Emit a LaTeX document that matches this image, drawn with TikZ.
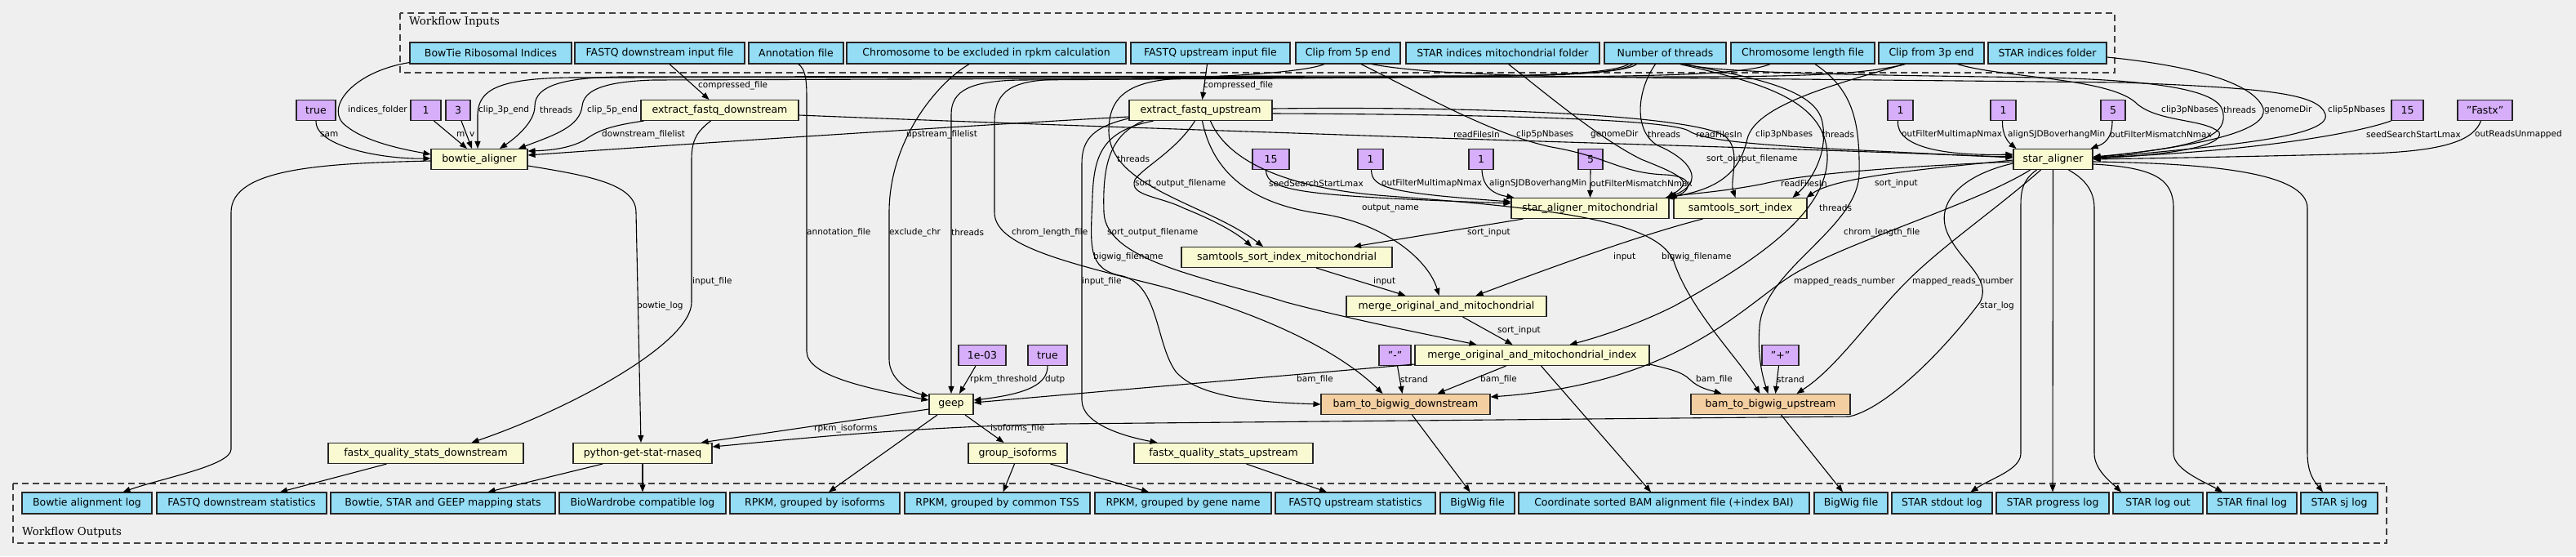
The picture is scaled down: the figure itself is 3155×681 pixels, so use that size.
\documentclass[tikz,border=0pt]{standalone}
\usepackage{fontspec}
\setmainfont{DejaVu Sans}
\newfontfamily\clusterfont{DejaVu Serif}
\usetikzlibrary{arrows.meta}
\definecolor{cBg}{RGB}{239,239,239}
\definecolor{cBlue}{RGB}{148,221,245}
\definecolor{cYel}{RGB}{250,250,210}
\definecolor{cPur}{RGB}{214,174,250}
\definecolor{cOra}{RGB}{243,206,160}
\newcommand\mynodefont{\fontsize{12.5}{15}\selectfont}
\newcommand\mylblfont{\fontsize{10.5}{12}\selectfont}
\begin{document}
\begin{tikzpicture}[x=1pt,y=-1pt,
  nbase/.style={draw=black!85,line width=1.1pt,inner sep=0pt,font=\mynodefont},
  inout/.style={nbase,fill=cBlue,minimum height=26pt},
  tool/.style={nbase,fill=cYel,minimum height=25pt},
  pbox/.style={nbase,fill=cPur,minimum height=25pt},
  conv/.style={nbase,fill=cOra,minimum height=25pt},
  lbl/.style={font=\mylblfont,inner sep=0pt,anchor=west},
  edg/.style={draw=black,line width=1.1pt,-{Triangle[length=9pt,width=7pt]}},
  cluster/.style={draw=black!75,line width=1.2pt,dash pattern=on 8pt off 5pt},
  ctitle/.style={font=\clusterfont\fontsize{13.3}{16}\selectfont,inner sep=0pt,anchor=west}]
\fill[cBg] (0,0) rectangle (3155,681);
\useasboundingbox (0,0) rectangle (3155,681);

% clusters
\draw[cluster] (490,16) rectangle (2590,89);
\node[ctitle] (tIn) at (501,27) {Workflow Inputs};
\draw[cluster] (16,592) rectangle (2923,665);
\node[ctitle] (tOut) at (27,652) {Workflow Outputs};

% inputs
\node[inout,minimum width=198] (iBT) at (601,65) {BowTie Ribosomal Indices};
\node[inout,minimum width=208] (iFD) at (808,65) {FASTQ downstream input file};
\node[inout,minimum width=116] (iAN) at (975,65) {Annotation file};
\node[inout,minimum width=342] (iCE) at (1208,65) {Chromosome to be excluded in rpkm calculation};
\node[inout,minimum width=195] (iFU) at (1482.5,65) {FASTQ upstream input file};
\node[inout,minimum width=128] (iC5) at (1651,65) {Clip from 5p end};
\node[inout,minimum width=237] (iSM) at (1840.5,65) {STAR indices mitochondrial folder};
\node[inout,minimum width=149] (iNT) at (2039.5,65) {Number of threads};
\node[inout,minimum width=176] (iCL) at (2208,65) {Chromosome length file};
\node[inout,minimum width=129] (iC3) at (2365.5,65) {Clip from 3p end};
\node[inout,minimum width=145] (iSI) at (2507.5,65) {STAR indices folder};

% outputs
\node[inout,minimum width=159] (oBA) at (106.5,616) {Bowtie alignment log};
\node[inout,minimum width=208] (oFD) at (296,616) {FASTQ downstream statistics};
\node[inout,minimum width=275] (oMS) at (542.5,616) {Bowtie, STAR and GEEP mapping stats};
\node[inout,minimum width=204] (oBW) at (787,616) {BioWardrobe compatible log};
\node[inout,minimum width=208] (oRI) at (998,616) {RPKM, grouped by isoforms};
\node[inout,minimum width=227] (oRT) at (1221.5,616) {RPKM, grouped by common TSS};
\node[inout,minimum width=216] (oRG) at (1449,616) {RPKM, grouped by gene name};
\node[inout,minimum width=196] (oFU) at (1660,616) {FASTQ upstream statistics};
\node[inout,minimum width=91] (oBW1) at (1809.5,616) {BigWig file};
\node[inout,minimum width=356] (oBAM) at (2038,616) {Coordinate sorted BAM alignment file (+index BAI)};
\node[inout,minimum width=90] (oBW2) at (2267,616) {BigWig file};
\node[inout,minimum width=123] (oSS) at (2378.5,616) {STAR stdout log};
\node[inout,minimum width=138] (oSP) at (2514,616) {STAR progress log};
\node[inout,minimum width=110] (oSL) at (2643,616) {STAR log out};
\node[inout,minimum width=110] (oSF) at (2758,616) {STAR final log};
\node[inout,minimum width=94] (oSJ) at (2865,616) {STAR sj log};

% parameters
\node[pbox,minimum width=48] (pSam) at (387,135) {true};
\node[pbox,minimum width=37] (pM) at (521.5,135) {1};
\node[pbox,minimum width=30] (pV) at (561,135) {3};
\node[pbox,minimum width=31] (pOM) at (2327.5,135) {1};
\node[pbox,minimum width=31] (pAS) at (2453.5,135) {1};
\node[pbox,minimum width=30] (pMM) at (2588,135) {5};
\node[pbox,minimum width=39] (pSeed2) at (2948.5,135) {15};
\node[pbox,minimum width=67] (pFastx) at (3043.5,135) {"Fastx"};
\node[pbox,minimum width=45] (pSeed1) at (1556.5,195) {15};
\node[pbox,minimum width=31] (pOM1) at (1678.5,195) {1};
\node[pbox,minimum width=30] (pAS1) at (1814,195) {1};
\node[pbox,minimum width=30] (pMM1) at (1948,195) {5};
\node[pbox,minimum width=39] (pMinus) at (1708.5,435) {"-"};
\node[pbox,minimum width=45] (pPlus) at (2180.5,435) {"+"};
\node[pbox,minimum width=58] (pRT) at (1203,435) {1e-03};
\node[pbox,minimum width=48] (pDutp) at (1283,435) {true};

% tools
\node[tool,minimum width=193] (tEFD) at (881.5,135) {extract\_fastq\_downstream};
\node[tool,minimum width=175] (tEFU) at (1470.5,135) {extract\_fastq\_upstream};
\node[tool,minimum width=118] (tBA) at (587,195) {bowtie\_aligner};
\node[tool,minimum width=97] (tSA) at (2514.5,195) {star\_aligner};
\node[tool,minimum width=193] (tSAM) at (1947.5,255) {star\_aligner\_mitochondrial};
\node[tool,minimum width=163] (tSSI) at (2131.5,255) {samtools\_sort\_index};
\node[tool,minimum width=258] (tSSIM) at (1576,315) {samtools\_sort\_index\_mitochondrial};
\node[tool,minimum width=245] (tMOM) at (1771.5,375) {merge\_original\_and\_mitochondrial};
\node[tool,minimum width=287] (tMOMI) at (1876.5,435) {merge\_original\_and\_mitochondrial\_index};
\node[tool,minimum width=54] (tGEEP) at (1165,495) {geep};
\node[conv,minimum width=207] (tBBD) at (1721.5,495) {bam\_to\_bigwig\_downstream};
\node[conv,minimum width=195] (tBBU) at (2168.5,495) {bam\_to\_bigwig\_upstream};
\node[tool,minimum width=239] (tFQD) at (521.5,555) {fastx\_quality\_stats\_downstream};
\node[tool,minimum width=170] (tPY) at (787,555) {python-get-stat-rnaseq};
\node[tool,minimum width=121] (tGI) at (1246.5,555) {group\_isoforms};
\node[tool,minimum width=219] (tFQU) at (1498.5,555) {fastx\_quality\_stats\_upstream};

% ---------- edges ----------
% bowtie_aligner inputs
\draw[edg] ([yshift=2]iBT.south west) .. controls (430,88) and (395,135) .. (425,155) .. controls (450,175) and (500,184) .. ([yshift=6]tBA.west);
\draw[edg] (pSam.south) .. controls (386,180) and (470,195) .. ([yshift=1]tBA.west);
\draw[edg] ([xshift=10]pM.south) -- ([xshift=-15]tBA.north);
\draw[edg] ([xshift=4]pV.south) -- ([xshift=-9]tBA.north);
\draw[edg] ([xshift=-32]iC3.south) .. controls (2280,92) and (2200,93) .. (2100,94) -- (700,95) .. controls (610,96) and (586,110) .. (585,140) -- ([xshift=-2]tBA.north);
\draw[edg] ([xshift=-35]iNT.south) .. controls (1990,90) and (1900,93) .. (1800,93) -- (760,94) .. controls (690,95) and (655,105) .. (655,130) .. controls (655,150) and (630,170) .. ([xshift=25]tBA.north);
\draw[edg] ([xshift=-29]iC5.south) .. controls (1600,88) and (1500,95) .. (1400,96) -- (800,98) .. controls (740,100) and (715,110) .. (713,130) .. controls (710,155) and (680,165) .. ([xshift=48]tBA.north);
\draw[edg] ([xshift=12]iFD.south) -- ([xshift=-13]tEFD.north);
\draw[edg] ([xshift=-93]tEFD.south) .. controls (740,155) and (730,162) .. (715,172) .. controls (700,180) and (680,184) .. ([yshift=-3]tBA.north east);
\draw[edg] ([yshift=-8]tEFU.west) .. controls (1250,150) and (900,172) .. ([yshift=5]tBA.east);
\draw[edg] ([xshift=-4]iFU.south) -- ([xshift=2]tEFU.north);

% star_aligner inputs
\draw[edg] ([yshift=-6]tEFD.east) .. controls (1200,150) and (1500,160) .. (1700,167) .. controls (2000,177) and (2300,185) .. ([yshift=2]tSA.west);
\draw[edg] ([yshift=-4]tEFU.east) .. controls (1800,140) and (2040,145) .. (2068,160) .. controls (2085,172) and (2150,178) .. (2300,185) .. controls (2400,190) and (2440,192) .. ([yshift=4]tSA.west);
\draw[edg] ([xshift=-3]pOM.south) .. controls (2322,180) and (2380,191) .. ([yshift=6]tSA.west);
\draw[edg] ([xshift=-1]pAS.south) .. controls (2452,168) and (2462,176) .. ([xshift=-45]tSA.north);
\draw[edg] ([xshift=-1]pMM.south) .. controls (2587,170) and (2577,176) .. ([xshift=-3]tSA.north east);
\draw[edg] (pSeed2.south west) .. controls (2880,165) and (2750,186) .. ([yshift=2]tSA.east);
\draw[edg] ([xshift=-5]pFastx.south) .. controls (3030,170) and (3000,185) .. (2900,188) .. controls (2750,192) and (2620,194) .. (tSA.east);
\draw[edg] ([xshift=32]iC3.south) .. controls (2450,95) and (2580,95) .. (2615,125) .. controls (2640,150) and (2700,145) .. (2718,162) .. controls (2725,180) and (2650,190) .. ([yshift=1]tSA.east);
\draw[edg] ([xshift=25]iNT.south) .. controls (2100,90) and (2300,92) .. (2500,95) .. controls (2640,98) and (2715,110) .. (2722,135) .. controls (2730,165) and (2700,180) .. ([yshift=3]tSA.east);
\draw[edg] ([yshift=-5]iSI.east) .. controls (2680,80) and (2760,100) .. (2772,133) .. controls (2778,160) and (2700,178) .. ([yshift=2]tSA.east);
\draw[edg] ([xshift=29]iC5.south) .. controls (1750,92) and (1900,94) .. (2100,96) -- (2600,101) .. controls (2780,108) and (2840,115) .. (2848,140) .. controls (2856,170) and (2700,180) .. ([yshift=1]tSA.east);

% star_aligner_mitochondrial inputs
\draw[edg] ([xshift=-6]pSeed1.south) .. controls (1550,235) and (1600,240) .. ([yshift=6]tSAM.west);
\draw[edg] ([xshift=1]pOM1.south) .. controls (1680,230) and (1700,236) .. ([yshift=8]tSAM.west);
\draw[edg] ([xshift=1]pAS1.south) .. controls (1816,230) and (1830,238) .. ([xshift=4]tSAM.north west);
\draw[edg] (pMM1.south) -- (tSAM.north);
\draw[edg] ([xshift=16]iC5.south) .. controls (1750,120) and (1830,165) .. (1900,180) .. controls (1970,192) and (1985,212) .. (2040,214) .. controls (2080,216) and (2070,238) .. ([xshift=-5]tSAM.north east);
\draw[edg] ([xshift=7]iSM.south) .. controls (1900,120) and (1960,170) .. (2010,195) .. controls (2060,215) and (2075,222) .. ([xshift=-3]tSAM.north east);
\draw[edg] ([xshift=-12]iNT.south) .. controls (2005,110) and (2000,160) .. (2030,178) .. controls (2070,195) and (2090,222) .. ([xshift=-1]tSAM.north east);
\draw[edg] ([xshift=-33]iC3.south) .. controls (2240,105) and (2150,130) .. (2140,170) .. controls (2130,215) and (2100,232) .. ([xshift=-2]tSAM.north east);
\draw[edg] ([yshift=-3]tSA.west) .. controls (2300,205) and (2200,215) .. (2160,225) .. controls (2110,235) and (2060,238) .. (tSAM.north east);

% samtools_sort_index
\draw[edg] ([yshift=-1]tSA.west) .. controls (2380,205) and (2250,215) .. ([xshift=-1]tSSI.north east);
\draw[edg] ([xshift=22]iNT.south) .. controls (2150,95) and (2225,110) .. (2232,150) .. controls (2240,190) and (2215,225) .. ([xshift=-18]tSSI.north east);
\draw[edg] ([yshift=2]tEFU.east) .. controls (1800,130) and (2060,140) .. (2110,165) .. controls (2135,180) and (2118,220) .. ([xshift=-6]tSSI.north);

% samtools_sort_index_mitochondrial
\draw[edg] ([xshift=-40]iNT.south) .. controls (1980,92) and (1900,93) .. (1700,94) -- (1450,96) .. controls (1380,98) and (1358,120) .. (1358,160) .. controls (1358,230) and (1480,250) .. ([xshift=-29]tSSIM.north);
\draw[edg] ([xshift=-7]tEFU.south) .. controls (1440,185) and (1400,205) .. (1390,220) .. controls (1382,240) and (1420,240) .. (1450,255) .. controls (1500,275) and (1520,290) .. ([xshift=-43]tSSIM.north);
\draw[edg] ([xshift=-82]tSAM.south) -- ([xshift=82]tSSIM.north);

% merge_original_and_mitochondrial
\draw[edg] ([xshift=36]tSSIM.south) -- ([xshift=-50]tMOM.north);
\draw[edg] ([xshift=-46]tSSI.south) .. controls (2000,290) and (1880,335) .. ([xshift=36]tMOM.north);
\draw[edg] ([xshift=2]tEFU.south) .. controls (1485,210) and (1530,250) .. (1620,262) .. controls (1700,275) and (1750,320) .. ([xshift=-9]tMOM.north);

% merge_original_and_mitochondrial_index
\draw[edg] ([xshift=20]tMOM.south) -- ([xshift=-24]tMOMI.north);
\draw[edg] ([xshift=-70]tEFU.south) .. controls (1360,165) and (1350,200) .. (1352,260) .. controls (1354,320) and (1480,340) .. (1575,370) .. controls (1650,390) and (1750,410) .. ([xshift=-68]tMOMI.north);
\draw[edg] ([xshift=18]iNT.south) .. controls (2150,100) and (2236,120) .. (2238,190) .. controls (2240,260) and (2150,320) .. (2050,375) .. controls (2000,400) and (1950,415) .. ([xshift=46]tMOMI.north);

% bam_to_bigwig
\draw[edg] ([xshift=15]iCL.south) .. controls (2270,110) and (2278,150) .. (2277,213) .. controls (2275,280) and (2160,330) .. (2155,400) .. controls (2152,440) and (2160,465) .. ([xshift=-3]tBBU.north);
\draw[edg] ([xshift=-40]iCL.south) .. controls (2140,90) and (2050,93) .. (1900,94) -- (1300,97) .. controls (1240,98) and (1218,110) .. (1218,150) -- (1218,260) .. controls (1218,300) and (1300,320) .. (1420,350) .. controls (1550,385) and (1640,430) .. ([xshift=-28]tBBD.north);
\draw[edg] ([xshift=-58]tEFU.south) .. controls (1350,160) and (1340,190) .. (1338,240) .. controls (1336,300) and (1330,330) .. (1375,338) .. controls (1420,350) and (1415,420) .. (1440,455) .. controls (1470,490) and (1560,493) .. (tBBD.west);
\draw[edg] ([xshift=12]tEFU.south) .. controls (1500,190) and (1560,230) .. (1700,240) .. controls (1900,255) and (2030,270) .. (2050,320) .. controls (2070,380) and (2130,440) .. ([xshift=-13]tBBU.north);
\draw[edg] ([xshift=-28]tSA.south) .. controls (2420,250) and (2250,300) .. (2190,340) .. controls (2130,380) and (2050,470) .. ([yshift=9]tBBD.east);
\draw[edg] ([xshift=-15]tSA.south) .. controls (2440,260) and (2380,300) .. (2335,345) .. controls (2290,390) and (2250,450) .. ([xshift=32]tBBU.north);
\draw[edg] ([xshift=-32]tMOMI.south) -- ([xshift=39]tBBD.north);
\draw[edg] ([xshift=3]pMinus.south) -- ([xshift=-4]tBBD.north);
\draw[edg] ([yshift=-11]tMOMI.east) .. controls (2045,452) and (2060,455) .. (2070,465) .. controls (2080,475) and (2095,478) .. ([xshift=-60]tBBU.north);
\draw[edg] ([xshift=-2]pPlus.south) -- ([xshift=6]tBBU.north);

% geep
\draw[edg] ([xshift=3]iAN.south) .. controls (986,85) and (988,95) .. (988,120) -- (988,430) .. controls (988,460) and (1060,475) .. ([yshift=5]tGEEP.west);
\draw[edg] ([xshift=-21]iCE.south) .. controls (1150,100) and (1089,170) .. (1089,260) -- (1089,440) .. controls (1089,465) and (1115,480) .. ([yshift=10]tGEEP.west);
\draw[edg] ([xshift=-45]iNT.south) .. controls (1975,90) and (1900,93) .. (1700,95) -- (1250,98) .. controls (1190,99) and (1165,110) .. (1165,140) -- (tGEEP.north);
\draw[edg] ([xshift=-8]pRT.south) -- ([xshift=10]tGEEP.north);
\draw[edg] (pDutp.south) .. controls (1283,470) and (1260,482) .. ([yshift=5]tGEEP.east);
\draw[edg] ([yshift=-11]tMOMI.west) -- ([yshift=2]tGEEP.east);

% downstream of geep and friends
\draw[edg] ([yshift=-6]tGEEP.west) -- ([xshift=-14]tPY.north east);
\draw[edg] ([xshift=-17]tGEEP.south) -- ([xshift=17]oRI.north);
\draw[edg] ([xshift=17]tGEEP.south) -- ([xshift=-17]tGI.north);
\draw[edg] ([xshift=-4]tGI.south) -- ([xshift=7]oRT.north);
\draw[edg] ([xshift=40]tGI.south) -- ([xshift=-42]oRG.north);
\draw[edg] ([xshift=28]tFQU.south) -- ([xshift=-35]oFU.north);
\draw[edg] ([yshift=-10]tEFU.west) .. controls (1340,155) and (1325,170) .. (1325,200) -- (1325,490) .. controls (1325,520) and (1380,535) .. ([xshift=-81]tFQU.north);
\draw[edg] ([xshift=8]tBBD.south) -- ([xshift=-9]oBW1.north);
\draw[edg] ([xshift=11]tMOMI.south) -- ([xshift=-16]oBAM.north);
\draw[edg] ([xshift=13]tBBU.south) -- ([xshift=-10]oBW2.north);

% star_aligner outputs
\draw[edg] ([xshift=-20]tSA.south) .. controls (2477,220) and (2475,235) .. (2475,250) -- (2475,555) .. controls (2475,575) and (2440,585) .. ([xshift=35]oSS.north);
\draw[edg] (tSA.south) -- (oSP.north);
\draw[edg] ([xshift=19]tSA.south) .. controls (2555,220) and (2565,235) .. (2565,255) -- (2565,555) .. controls (2565,575) and (2585,590) .. ([xshift=-45]oSL.north);
\draw[edg] ([yshift=-6]tSA.east) .. controls (2640,205) and (2662,220) .. (2662,255) -- (2662,555) .. controls (2662,575) and (2700,590) .. ([xshift=-36]oSF.north);
\draw[edg] ([yshift=-3]tSA.east) .. controls (2700,200) and (2826,210) .. (2826,255) -- (2826,555) .. controls (2826,580) and (2835,590) .. ([xshift=-20]oSJ.north);

% python-get-stat-rnaseq and bowtie outputs
\draw[edg] ([yshift=-8]tBA.east) .. controls (720,215) and (779,225) .. (779,260) -- ([xshift=-2]tPY.north);
\draw[edg] ([yshift=-5]tSA.west) .. controls (2400,215) and (2370,250) .. (2385,285) .. controls (2400,320) and (2440,340) .. (2425,370) .. controls (2380,430) and (2310,500) .. (2265,510) -- (1300,519) .. controls (1100,523) and (950,540) .. ([yshift=8]tPY.east);
\draw[edg] ([xshift=-11]tEFD.south) .. controls (855,160) and (847,170) .. (847,195) -- (847,370) .. controls (847,420) and (700,500) .. ([xshift=56]tFQD.north);
\draw[edg] ([yshift=-2]tBA.west) .. controls (400,200) and (283,205) .. (283,260) -- (283,550) .. controls (283,570) and (200,585) .. ([xshift=44]oBA.north);
\draw[edg] ([xshift=-48]tFQD.south) -- ([xshift=47]oFD.north);
\draw[edg] ([xshift=-49]tPY.south) -- ([xshift=55]oMS.north);
\draw[edg] (tPY.south) -- (oBW.north);

% ---------- edge labels ----------
\node[lbl] (l01) at (426,135) {indices\_folder};
\node[lbl] (l02) at (392,165) {sam};
\node[lbl] (l03) at (559,165) {m};
\node[lbl] (l04) at (575,165) {v};
\node[lbl] (l05) at (586,135) {clip\_3p\_end};
\node[lbl] (l06) at (661,135) {threads};
\node[lbl] (l07) at (719,135) {clip\_5p\_end};
\node[lbl] (l08) at (855,105) {compressed\_file};
\node[lbl] (l09) at (737,165) {downstream\_filelist};
\node[lbl] (l10) at (1110,165) {upstream\_filelist};
\node[lbl] (l11) at (1474,105) {compressed\_file};
\node[lbl] (l12) at (1368,195) {threads};
\node[lbl] (l13) at (1390,225) {sort\_output\_filename};
\node[lbl] (l14) at (1554,225) {seedSearchStartLmax};
\node[lbl] (l15) at (1692,225) {outFilterMultimapNmax};
\node[lbl] (l16) at (1824,225) {alignSJDBoverhangMin};
\node[lbl] (l17) at (1948,225) {outFilterMismatchNmax};
\node[lbl] (l18) at (1780,165) {readFilesIn};
\node[lbl] (l19) at (1857,165) {clip5pNbases};
\node[lbl] (l20) at (1948,165) {genomeDir};
\node[lbl] (l21) at (2018,165) {threads};
\node[lbl] (l22) at (2077,165) {readFilesIn};
\node[lbl] (l23) at (2150,165) {clip3pNbases};
\node[lbl] (l24) at (2231,165) {threads};
\node[lbl] (l25) at (2090,195) {sort\_output\_filename};
\node[lbl] (l26) at (2181,225) {readFilesIn};
\node[lbl] (l27) at (2296,225) {sort\_input};
\node[lbl] (l28) at (2329,165) {outFilterMultimapNmax};
\node[lbl] (l29) at (2459,165) {alignSJDBoverhangMin};
\node[lbl] (l30) at (2584,165) {outFilterMismatchNmax};
\node[lbl] (l31) at (2647,135) {clip3pNbases};
\node[lbl] (l32) at (2723,135) {threads};
\node[lbl] (l33) at (2773,135) {genomeDir};
\node[lbl] (l34) at (2851,135) {clip5pNbases};
\node[lbl] (l35) at (2898,165) {seedSearchStartLmax};
\node[lbl] (l36) at (3031,165) {outReadsUnmapped};
\node[lbl] (l37) at (1668,255) {output\_name};
\node[lbl] (l38) at (1797,285) {sort\_input};
\node[lbl] (l39) at (1976,315) {input};
\node[lbl] (l40) at (2035,315) {bigwig\_filename};
\node[lbl] (l41) at (2228,255) {threads};
\node[lbl] (l42) at (2258,285) {chrom\_length\_file};
\node[lbl] (l43) at (988,285) {annotation\_file};
\node[lbl] (l44) at (1089,285) {exclude\_chr};
\node[lbl] (l45) at (1165,285) {threads};
\node[lbl] (l46) at (1239,285) {chrom\_length\_file};
\node[lbl] (l47) at (1356,285) {sort\_output\_filename};
\node[lbl] (l48) at (1339,315) {bigwig\_filename};
\node[lbl] (l49) at (1325,345) {input\_file};
\node[lbl] (l50) at (848,345) {input\_file};
\node[lbl] (l51) at (780,375) {bowtie\_log};
\node[lbl] (l52) at (1682,345) {input};
\node[lbl] (l53) at (2197,345) {mapped\_reads\_number};
\node[lbl] (l54) at (2342,345) {mapped\_reads\_number};
\node[lbl] (l55) at (2425,375) {star\_log};
\node[lbl] (l56) at (1834,405) {sort\_input};
\node[lbl] (l57) at (1588,465) {bam\_file};
\node[lbl] (l58) at (1715,465) {strand};
\node[lbl] (l59) at (1813,465) {bam\_file};
\node[lbl] (l60) at (2077,465) {bam\_file};
\node[lbl] (l61) at (2176,465) {strand};
\node[lbl] (l62) at (1188,465) {rpkm\_threshold};
\node[lbl] (l63) at (1280,465) {dutp};
\node[lbl] (l64) at (1213,525) {isoforms\_file};
\node[lbl] (l65) at (997,525) {rpkm\_isoforms};
\end{tikzpicture}
\end{document}
